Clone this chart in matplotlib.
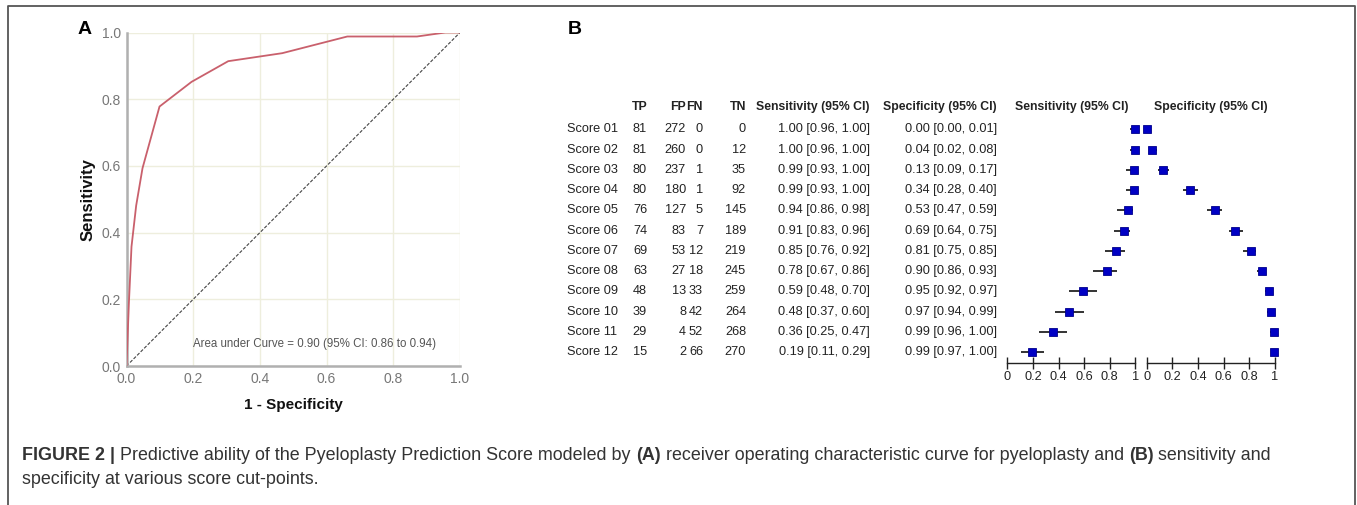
import matplotlib
matplotlib.use("Agg")
import matplotlib.pyplot as plt

# ---------------- data ----------------
roc_fpr = [0.0, 0.007, 0.015, 0.029, 0.048, 0.099, 0.195, 0.305, 0.467, 0.662, 0.871, 0.956, 1.0]
roc_tpr = [0.0, 0.185, 0.358, 0.481, 0.593, 0.778, 0.852, 0.914, 0.938, 0.988, 0.988, 1.0, 1.0]
auc_text = "Area under Curve = 0.90 (95% CI: 0.86 to 0.94)"

scores = ["Score 01", "Score 02", "Score 03", "Score 04", "Score 05", "Score 06",
          "Score 07", "Score 08", "Score 09", "Score 10", "Score 11", "Score 12"]
tp = [81, 81, 80, 80, 76, 74, 69, 63, 48, 39, 29, 15]
fp = [272, 260, 237, 180, 127, 83, 53, 27, 13, 8, 4, 2]
fn = [0, 0, 1, 1, 5, 7, 12, 18, 33, 42, 52, 66]
tn = [0, 12, 35, 92, 145, 189, 219, 245, 259, 264, 268, 270]
sens = [1.00, 1.00, 0.99, 0.99, 0.94, 0.91, 0.85, 0.78, 0.59, 0.48, 0.36, 0.19]
sens_lo = [0.96, 0.96, 0.93, 0.93, 0.86, 0.83, 0.76, 0.67, 0.48, 0.37, 0.25, 0.11]
sens_hi = [1.00, 1.00, 1.00, 1.00, 0.98, 0.96, 0.92, 0.86, 0.70, 0.60, 0.47, 0.29]
spec = [0.00, 0.04, 0.13, 0.34, 0.53, 0.69, 0.81, 0.90, 0.95, 0.97, 0.99, 0.99]
spec_lo = [0.00, 0.02, 0.09, 0.28, 0.47, 0.64, 0.75, 0.86, 0.92, 0.94, 0.96, 0.97]
spec_hi = [0.01, 0.08, 0.17, 0.40, 0.59, 0.75, 0.85, 0.93, 0.97, 0.99, 1.00, 1.00]

roc_ticks = [0.0, 0.2, 0.4, 0.6, 0.8, 1.0]
forest_ticks = [0, 0.2, 0.4, 0.6, 0.8, 1]
forest_ticklabels = ["0", "0.2", "0.4", "0.6", "0.8", "1"]

# ---------------- figure ----------------
W, H = 1357, 505
fig = plt.figure(figsize=(W / 100, H / 100), dpi=100)
plt.rcParams['font.family'] = ['Liberation Sans', 'DejaVu Sans']


def px_axes(x0, y0, x1, y1):
    """axes from pixel box (top-left origin)"""
    return fig.add_axes([x0 / W, 1 - y1 / H, (x1 - x0) / W, (y1 - y0) / H])


# overlay axes in pixel coordinates
bg = fig.add_axes([0, 0, 1, 1])
bg.set_xlim(0, W)
bg.set_ylim(H, 0)
bg.axis('off')
bg.plot([8, 8, 1355, 1355], [H + 5, 6, 6, H + 5], color='#555555', lw=1.3, clip_on=False)

# ---------------- panel A: ROC ----------------
axA = px_axes(126.5, 32.5, 460, 366)
axA.plot(roc_fpr, roc_tpr, color='#c9606c', lw=1.3, zorder=3)
axA.plot([0, 1], [0, 1], color='#444444', lw=0.8, ls=(0, (3, 1.5)), zorder=2)
axA.set_xlim(0, 1)
axA.set_ylim(0, 1)
axA.set_xticks(roc_ticks)
axA.set_yticks(roc_ticks)
axA.set_xticklabels([f"{t:.1f}" for t in roc_ticks])
axA.set_yticklabels([f"{t:.1f}" for t in roc_ticks])
axA.grid(True, color='#eeeedd', lw=1.0)
axA.set_axisbelow(True)
for s in ['top', 'right']:
    axA.spines[s].set_visible(False)
for s in ['left', 'bottom']:
    axA.spines[s].set_color('#b0b0b0')
    axA.spines[s].set_linewidth(1.8)
axA.tick_params(length=0, labelsize=10, labelcolor='#777777', pad=4)
axA.set_xlabel("1 - Specificity", fontsize=11, fontweight='bold', labelpad=9, color='#111111')
axA.set_ylabel("Sensitivity", fontsize=12, fontweight='bold', labelpad=4, color='#111111')
axA.text(0.2, 0.066, auc_text, fontsize=8.3, color='#555555', va='center', ha='left')
bg.text(78, 30, "A", fontsize=14, fontweight='bold', va='center', ha='left')

# ---------------- panel B: table ----------------
bg.text(568, 30, "B", fontsize=14, fontweight='bold', va='center', ha='left')
row_y0, row_dy = 129.3, 20.25
head_y = 107
tcol = '#222222'
fs = 9.2
hfs = 8.8
headers = [("TP", 647), ("FP", 686), ("FN", 703), ("TN", 746),
           ("Sensitivity (95% CI)", 870), ("Specificity (95% CI)", 997)]
for txt, x in headers:
    bg.text(x, head_y, txt, fontsize=hfs, fontweight='bold', ha='right',
            va='center', color=tcol)
for i in range(len(scores)):
    y = row_y0 + i * row_dy
    bg.text(567, y, scores[i], fontsize=fs, ha='left', va='center', color=tcol)
    bg.text(647, y, str(tp[i]), fontsize=fs, ha='right', va='center', color=tcol)
    bg.text(686, y, str(fp[i]), fontsize=fs, ha='right', va='center', color=tcol)
    bg.text(703, y, str(fn[i]), fontsize=fs, ha='right', va='center', color=tcol)
    bg.text(746, y, str(tn[i]), fontsize=fs, ha='right', va='center', color=tcol)
    bg.text(870, y, f"{sens[i]:.2f} [{sens_lo[i]:.2f}, {sens_hi[i]:.2f}]",
            fontsize=fs, ha='right', va='center', color=tcol)
    bg.text(997, y, f"{spec[i]:.2f} [{spec_lo[i]:.2f}, {spec_hi[i]:.2f}]",
            fontsize=fs, ha='right', va='center', color=tcol)

# ---------------- panel B: forest plots ----------------
n = len(scores)
ylim_bottom = (363 - row_y0) / row_dy
ylim_top = -0.6
top_px = row_y0 + ylim_top * row_dy


def forest(x0, x1, vals, lo, hi, title):
    ax = px_axes(x0, top_px, x1, 363)
    rows = list(range(n))
    ax.hlines(rows, lo, hi, color='#111111', lw=1.2, clip_on=False, zorder=2)
    ax.plot(vals, rows, ls='none', marker='s', ms=6.2, mfc='#0000c4', mec='#00008a',
            mew=0.6, clip_on=False, zorder=3)
    ax.set_xlim(0, 1)
    ax.set_ylim(ylim_bottom, ylim_top)
    ax.set_yticks([])
    for s in ['top', 'right', 'left']:
        ax.spines[s].set_visible(False)
    ax.spines['bottom'].set_color('#222222')
    ax.spines['bottom'].set_linewidth(1.0)
    ax.set_xticks(forest_ticks)
    ax.set_xticklabels(forest_ticklabels)
    ax.tick_params(axis='x', direction='inout', length=8, width=1.0, color='#222222',
                   labelsize=9.2, labelcolor=tcol, pad=2)
    ax.patch.set_alpha(0)
    bg.text((x0 + x1) / 2, head_y, title, fontsize=hfs, fontweight='bold',
            ha='center', va='center', color=tcol)
    return ax


forest(1007.3, 1135.3, sens, sens_lo, sens_hi, "Sensitivity (95% CI)")
forest(1146.7, 1275, spec, spec_lo, spec_hi, "Specificity (95% CI)")

# ---------------- caption ----------------
cap_col = '#333333'
cap_fs = 12.9
line1 = [("FIGURE 2 | ", 'bold'), ("Predictive ability of the Pyeloplasty Prediction Score modeled by ", 'normal'),
         ("(A)", 'bold'), (" receiver operating characteristic curve for pyeloplasty and ", 'normal'),
         ("(B)", 'bold'), (" sensitivity and", 'normal')]
line2 = [("specificity at various score cut-points.", 'normal')]

fig.canvas.draw()
renderer = fig.canvas.get_renderer()


def draw_line(parts, x, y):
    for txt, wt in parts:
        t = bg.text(x, y, txt, fontsize=cap_fs, fontweight=wt, color=cap_col, va='center', ha='left')
        bb = t.get_window_extent(renderer=renderer)
        x += bb.width


draw_line(line1, 22.5, 455)
draw_line(line2, 22.5, 479)

fig.savefig("out.png", dpi=100)
